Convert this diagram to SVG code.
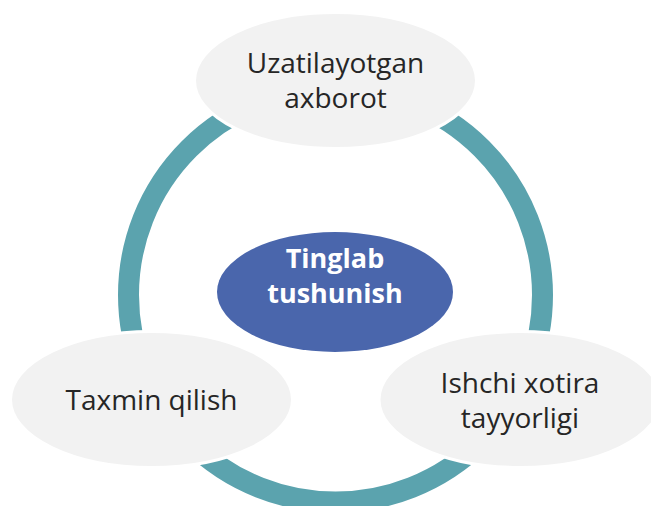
<svg xmlns="http://www.w3.org/2000/svg" width="651" height="506" viewBox="0 0 651 506">
<style>
.sat{fill:#F2F2F2;stroke:#FFFFFF;stroke-width:3}
.lbl{font-family:"Open Sans","Noto Sans","DejaVu Sans",sans-serif;font-size:28px;fill:#262626;text-anchor:middle}
.ctr{font-family:"Open Sans","Noto Sans","DejaVu Sans",sans-serif;font-size:27px;font-weight:bold;fill:#FFFFFF;text-anchor:middle}
</style>
<rect width="651" height="506" fill="#FFFFFF"/>
<g id="connectors">
<circle cx="335.5" cy="295" r="207" fill="none" stroke="#5BA3AE" stroke-width="21"/>
</g>
<g id="center">
<ellipse cx="335" cy="292" rx="118" ry="60" fill="#4A66AC"/>
<text class="ctr" x="335" y="268">Tinglab</text>
<text class="ctr" x="335" y="303">tushunish</text>
</g>
<g id="top">
<ellipse class="sat" cx="335.5" cy="80.5" rx="141" ry="68"/>
<text class="lbl" x="335.5" y="73">Uzatilayotgan</text>
<text class="lbl" x="335.5" y="108">axborot</text>
</g>
<g id="left">
<ellipse class="sat" cx="151.5" cy="399.5" rx="141" ry="68"/>
<text class="lbl" x="151.5" y="410">Taxmin qilish</text>
</g>
<g id="right">
<ellipse class="sat" cx="520" cy="399.5" rx="141" ry="68"/>
<text class="lbl" x="520" y="393">Ishchi xotira</text>
<text class="lbl" x="520" y="428">tayyorligi</text>
</g>
</svg>
